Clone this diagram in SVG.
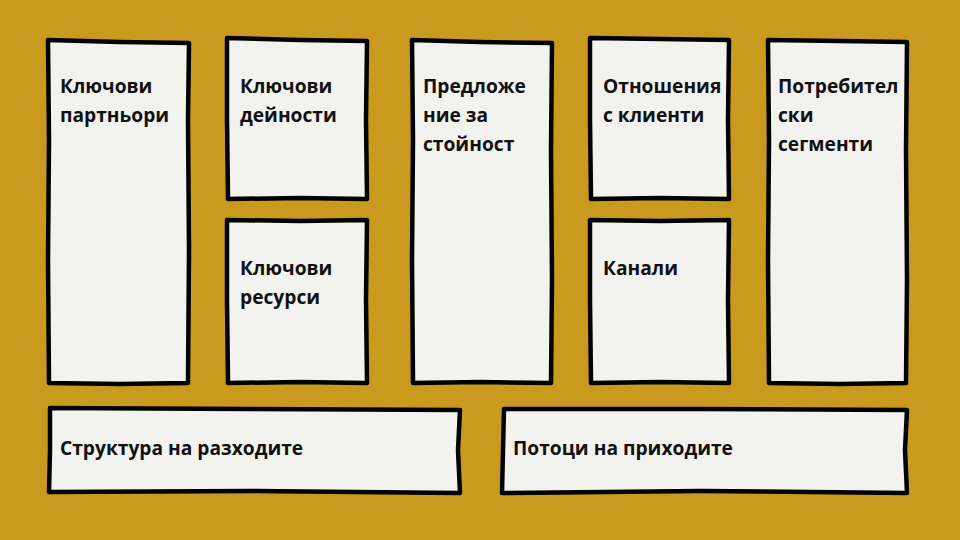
<svg xmlns="http://www.w3.org/2000/svg" width="960" height="540" viewBox="0 0 960 540">
<style>
.card{fill:#F2F2EE;stroke:#000;stroke-width:4.5;stroke-linejoin:round;stroke-linecap:round}
.t{font-family:"Open Sans","DejaVu Sans",sans-serif;font-weight:700;font-size:19.2px;fill:#111}
</style>
<rect width="960" height="540" fill="#CA9A1F"/>
<g id="key-partners">
<path class="card" d="M48,40 L120,42 L189,43 L188,120 L189,250 L188,383 L120,384 L49,383 L48,260 L49,140 Z"/>
<text class="t" x="60" y="93">Ключови</text>
<text class="t" x="60" y="122">партньори</text>
</g>
<g id="key-activities">
<path class="card" d="M227,38 L300,40 L367,41 L366,120 L367,199 L300,198 L228,199 L227,120 Z"/>
<text class="t" x="240" y="93">Ключови</text>
<text class="t" x="240" y="122">дейности</text>
</g>
<g id="key-resources">
<path class="card" d="M227,220 L300,221 L367,220 L366,300 L367,383 L300,382 L228,383 L227,300 Z"/>
<text class="t" x="240" y="275">Ключови</text>
<text class="t" x="240" y="304">ресурси</text>
</g>
<g id="value-proposition">
<path class="card" d="M412,40 L480,42 L552,43 L551,150 L552,280 L551,383 L480,382 L413,383 L412,260 L413,140 Z"/>
<text class="t" x="423" y="93">Предложе</text>
<text class="t" x="423" y="122">ние за</text>
<text class="t" x="423" y="151">стойност</text>
</g>
<g id="customer-relationships">
<path class="card" d="M590,38 L660,39 L729,40 L728,120 L729,199 L660,198 L591,199 L590,120 Z"/>
<text class="t" x="603" y="93">Отношения</text>
<text class="t" x="603" y="122">с клиенти</text>
</g>
<g id="channels">
<path class="card" d="M590,220 L660,221 L729,220 L728,300 L729,383 L660,382 L591,383 L590,300 Z"/>
<text class="t" x="603" y="275">Канали</text>
</g>
<g id="customer-segments">
<path class="card" d="M768,40 L840,41 L907,42 L906,150 L907,280 L906,383 L840,384 L769,383 L768,260 L769,140 Z"/>
<text class="t" x="778" y="93">Потребител</text>
<text class="t" x="778" y="122">ски</text>
<text class="t" x="778" y="151">сегменти</text>
</g>
<g id="cost-structure">
<path class="card" d="M50,408 L250,409 L460,410 L458,450 L460,493 L250,491 L49,492 L50,450 Z"/>
<text class="t" x="60" y="455">Структура на разходите</text>
</g>
<g id="revenue-streams">
<path class="card" d="M504,409 L700,409 L907,410 L905,450 L907,493 L700,491 L502,493 L503,450 Z"/>
<text class="t" x="513" y="455">Потоци на приходите</text>
</g>
<g id="connectors"></g>
</svg>
